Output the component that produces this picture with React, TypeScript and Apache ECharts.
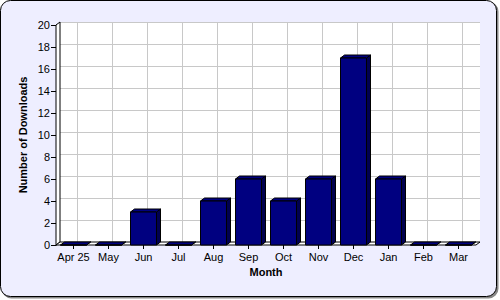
import React, { useEffect, useRef } from "react";
import * as echarts from "echarts";

const months = ["Apr 25", "May", "Jun", "Jul", "Aug", "Sep", "Oct", "Nov", "Dec", "Jan", "Feb", "Mar"];
const downloads = [0, 0, 3, 0, 4, 6, 4, 6, 17, 6, 0, 0];
const yMin = 0;
const yMax = 20;
const yStep = 2;

const FONT = "'Liberation Sans', Arial, sans-serif";

export default function App() {
  const ref = useRef<HTMLDivElement>(null);
  useEffect(() => {
    document.body.style.margin = "0";
    if (!ref.current) return;
    const chart = echarts.init(ref.current, null, { renderer: "svg" });
    const L = 56, T = 25, R = 24, B = 55;
    const DX = 4, DY = 3;
    const W = 500, H = 300;
    const plotR = W - R;
    const plotB = H - B;
    chart.setOption({
      animation: false,
      textStyle: { fontFamily: FONT },
      graphic: [
        { type: "rect", z: -10, silent: true, shape: { x: 1.5, y: 1.5, width: 497, height: 297, r: 10 }, style: { fill: "#888" } },
        { type: "rect", z: -9, silent: true, shape: { x: 0.5, y: 0.5, width: 496, height: 296, r: 10 }, style: { fill: "#EEEEFF", stroke: "#000", lineWidth: 1 } },
        { type: "polygon", z: 3, silent: true, shape: { points: [[L, T], [L + DX, T - DY], [L + DX, plotB - DY], [L, plotB]] }, style: { fill: "#fff", stroke: "#000", lineWidth: 1 } },
        { type: "polygon", z: 3, silent: true, shape: { points: [[L, plotB], [L + DX, plotB - DY], [plotR + DX, plotB - DY], [plotR, plotB]] }, style: { fill: "#fff", stroke: "#000", lineWidth: 1 } },
      ],
      grid: [
        { left: L, top: T, right: R, bottom: B, show: false },
        { left: L + DX, top: T - DY, right: R - DX, bottom: B + DY, show: true, backgroundColor: "#fff", borderWidth: 0 },
      ],
      xAxis: [
        {
          type: "category", gridIndex: 0, data: months,
          axisLine: { show: false },
          axisTick: { show: true, alignWithLabel: true, length: 4, lineStyle: { color: "#000" } },
          axisLabel: { color: "#000", fontSize: 11, fontFamily: FONT, margin: 6, interval: 0 },
          name: "Month", nameLocation: "middle", nameGap: 21, nameMoveOverlap: false,
          nameTextStyle: { color: "#000", fontWeight: "bold", fontSize: 11, fontFamily: FONT },
          splitLine: { show: false },
        },
        {
          type: "category", gridIndex: 1, data: months,
          axisLine: { show: false }, axisTick: { show: false }, axisLabel: { show: false }, splitLine: { show: false },
        },
      ],
      yAxis: [
        {
          type: "value", gridIndex: 0, min: yMin, max: yMax, interval: yStep,
          axisLine: { show: true, lineStyle: { color: "#000", width: 1 } },
          axisTick: { show: true, length: 5, lineStyle: { color: "#000" } },
          axisLabel: { color: "#000", fontSize: 11, fontFamily: FONT, margin: 6 },
          splitLine: { show: false },
          name: "Number of Downloads", nameLocation: "middle", nameGap: 28, nameRotate: 90, nameMoveOverlap: false,
          nameTextStyle: { color: "#000", fontWeight: "bold", fontSize: 11, fontFamily: FONT },
        },
        {
          type: "value", gridIndex: 1, min: yMin, max: yMax, interval: yStep,
          axisLine: { show: false }, axisTick: { show: false }, axisLabel: { show: false },
          splitLine: { show: true, lineStyle: { color: "#C8C8C8", width: 1 } },
        },
      ],
      series: [
        {
          type: "custom", xAxisIndex: 1, yAxisIndex: 1, z: 1, silent: true,
          data: months.map((_, i) => [i, yMax]),
          renderItem: (params: any, api: any) => {
            const i = api.value(0);
            const a = api.coord([i, yMin]);
            const b = api.coord([i, yMax]);
            return { type: "line", shape: { x1: a[0], y1: a[1], x2: b[0], y2: b[1] }, style: { stroke: "#C8C8C8", lineWidth: 1 } };
          },
        },
        {
          type: "custom", xAxisIndex: 0, yAxisIndex: 0, z: 5,
          data: downloads.map((v, i) => [i, v]),
          renderItem: (params: any, api: any) => {
            const i = api.value(0);
            const v = api.value(1);
            const top = api.coord([i, v]);
            const base = api.coord([i, 0]);
            const bw = 26;
            const l = top[0] - bw / 2;
            const r = top[0] + bw / 2;
            const ty = top[1];
            const by = base[1];
            return {
              type: "group",
              children: [
                { type: "polygon", shape: { points: [[r, ty], [r + DX, ty - DY], [r + DX, by - DY], [r, by]] }, style: { fill: "#000050", stroke: "#000", lineWidth: 1 } },
                { type: "polygon", shape: { points: [[l, ty], [l + DX, ty - DY], [r + DX, ty - DY], [r, ty]] }, style: { fill: "#000080", stroke: "#000", lineWidth: 1 } },
                { type: "rect", shape: { x: l, y: ty, width: bw, height: by - ty }, style: { fill: "#000080", stroke: "#000", lineWidth: 1 } },
              ],
            };
          },
        },
      ],
    });
    return () => chart.dispose();
  }, []);
  return <div ref={ref} style={{ width: 500, height: 300 }} />;
}
